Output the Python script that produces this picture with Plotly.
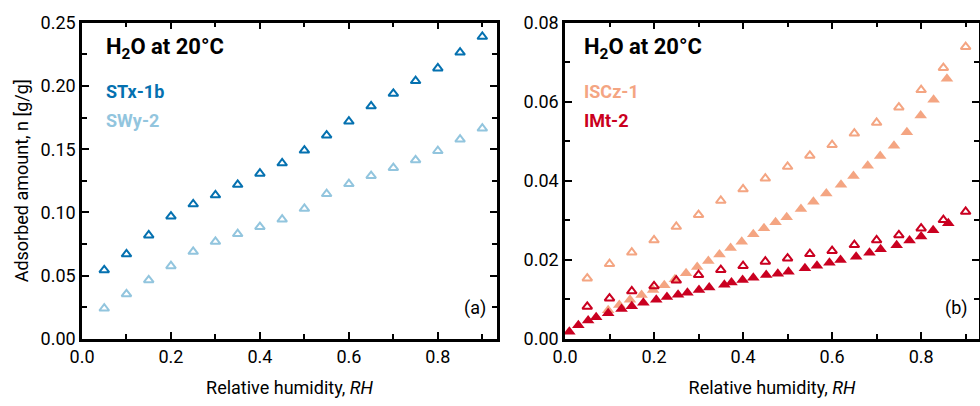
import plotly.graph_objects as go

# ---- Panel (a): H2O isotherms at 20 °C, open symbols ----
rh_a = [0.05, 0.10, 0.15, 0.20, 0.25, 0.30, 0.35, 0.40, 0.45,
        0.50, 0.55, 0.60, 0.65, 0.70, 0.75, 0.80, 0.85, 0.90]
stx_1b = [0.0545, 0.067, 0.082, 0.097, 0.1066, 0.1137, 0.122, 0.1308, 0.139,
          0.149, 0.161, 0.172, 0.184, 0.194, 0.204, 0.214, 0.2265, 0.239]
swy_2 = [0.0242, 0.0355, 0.0466, 0.0577, 0.069, 0.0769, 0.083, 0.0887, 0.0945,
         0.103, 0.1147, 0.1226, 0.129, 0.1353, 0.1414, 0.1487, 0.1577, 0.1664]

# ---- Panel (b): open symbols on a regular RH grid ----
rh_b_open = [0.05, 0.10, 0.15, 0.20, 0.25, 0.30, 0.35, 0.40, 0.45,
             0.50, 0.55, 0.60, 0.65, 0.70, 0.75, 0.80, 0.85, 0.90]
iscz_1_open = [0.01535, 0.019, 0.0219, 0.025, 0.0284, 0.0314, 0.035, 0.0379, 0.0406,
               0.0436, 0.0464, 0.0491, 0.052, 0.0547, 0.0586, 0.063, 0.0686, 0.0739]
imt_2_open = [0.0082, 0.0103, 0.0121, 0.0134, 0.0148, 0.0162, 0.0175, 0.0185, 0.0196,
              0.0204, 0.0215, 0.0223, 0.0238, 0.025, 0.0263, 0.028, 0.0301, 0.0322]

# ---- Panel (b): filled symbols (denser measurement) ----
rh_iscz_1_fill = [0.097, 0.122, 0.146, 0.172, 0.198, 0.223, 0.247, 0.272, 0.297,
                  0.322, 0.347, 0.372, 0.397, 0.423, 0.447, 0.473, 0.498, 0.530,
                  0.558, 0.587, 0.620, 0.648, 0.680, 0.708, 0.739, 0.768, 0.799,
                  0.828, 0.858]
iscz_1_fill = [0.0073, 0.0086, 0.0099, 0.0111, 0.0124, 0.0136, 0.0151, 0.0166, 0.0182,
               0.0197, 0.0214, 0.0230, 0.0246, 0.0265, 0.0280, 0.0295, 0.0308, 0.0329,
               0.0347, 0.0368, 0.0390, 0.0412, 0.0438, 0.0463, 0.0489, 0.0523, 0.0565,
               0.0605, 0.0658]
rh_imt_2_fill = [0.0097, 0.030, 0.052, 0.070, 0.097, 0.127, 0.150, 0.176, 0.205,
                 0.229, 0.254, 0.275, 0.301, 0.324, 0.358, 0.374, 0.399, 0.423,
                 0.452, 0.478, 0.502, 0.539, 0.566, 0.594, 0.619, 0.654, 0.684,
                 0.709, 0.745, 0.774, 0.800, 0.827, 0.861]
imt_2_fill = [0.00185, 0.0035, 0.0047, 0.0055, 0.0065, 0.0076, 0.0083, 0.0092, 0.0099,
              0.0106, 0.0112, 0.0117, 0.0124, 0.0130, 0.0137, 0.0143, 0.0149, 0.0155,
              0.0162, 0.0165, 0.0170, 0.0179, 0.0185, 0.0193, 0.0200, 0.0208, 0.0218,
              0.0227, 0.0237, 0.0249, 0.0259, 0.0275, 0.0293]

x_ticks = [0.0, 0.2, 0.4, 0.6, 0.8]
x_ticktext = ["0.0", "0.2", "0.4", "0.6", "0.8"]
y_ticks_a = [0.00, 0.05, 0.10, 0.15, 0.20, 0.25]
y_ticktext_a = ["0.00", "0.05", "0.10", "0.15", "0.20", "0.25"]
y_ticks_b = [0.00, 0.02, 0.04, 0.06, 0.08]
y_ticktext_b = ["0.00", "0.02", "0.04", "0.06", "0.08"]

C_STX = "#0571B0"
C_SWY = "#92C5DE"
C_ISC = "#F4A582"
C_IMT = "#CA0020"

FONT = "Roboto, 'Liberation Sans', sans-serif"

fig = go.Figure()

def open_tri(x, y, color, xa, ya):
    return go.Scatter(x=x, y=y, mode="markers", xaxis=xa, yaxis=ya, showlegend=False,
                      marker=dict(symbol="triangle-up-open", size=8.5, color=color,
                                  line=dict(width=2, color=color)))

def filled_tri(x, y, color, xa, ya):
    return go.Scatter(x=x, y=y, mode="markers", xaxis=xa, yaxis=ya, showlegend=False,
                      marker=dict(symbol="triangle-up", size=11, color=color,
                                  line=dict(width=0)))

fig.add_trace(open_tri(rh_a, stx_1b, C_STX, "x", "y"))
fig.add_trace(open_tri(rh_a, swy_2, C_SWY, "x", "y"))

fig.add_trace(filled_tri(rh_iscz_1_fill, iscz_1_fill, C_ISC, "x2", "y2"))
fig.add_trace(open_tri(rh_b_open, iscz_1_open, C_ISC, "x2", "y2"))
fig.add_trace(filled_tri(rh_imt_2_fill, imt_2_fill, C_IMT, "x2", "y2"))
fig.add_trace(open_tri(rh_b_open, imt_2_open, C_IMT, "x2", "y2"))

axis_common = dict(
    showline=True, linewidth=2.5, linecolor="black", mirror="allticks",
    ticks="inside", ticklen=7, tickwidth=2, tickcolor="black",
    showgrid=False, zeroline=False, automargin=False,
    tickfont=dict(family=FONT, size=18, color="black"),
)
minor_common = dict(ticks="inside", ticklen=5, tickwidth=2, tickcolor="black", showgrid=False)

fig.update_layout(
    width=980, height=406,
    margin=dict(l=0, r=0, t=0, b=0),
    paper_bgcolor="white", plot_bgcolor="white",
    font=dict(family=FONT, color="black"),
    xaxis=dict(domain=[82 / 980, 497 / 980], range=[0, 0.933],
               tickvals=x_ticks, ticktext=x_ticktext,
               minor=dict(dtick=0.1, tick0=0, **minor_common),
               title=dict(text="Relative humidity, <i>RH</i>", font=dict(size=18), standoff=16),
               anchor="y", **axis_common),
    yaxis=dict(domain=[1 - 339 / 406, 1 - 22.7 / 406], range=[0, 0.25],
               tickvals=y_ticks_a, ticktext=y_ticktext_a,
               minor=dict(dtick=0.025, tick0=0, **minor_common),
               title=dict(text="Adsorbed amount, n [g/g]", font=dict(size=18), standoff=8),
               anchor="x", **axis_common),
    xaxis2=dict(domain=[565 / 980, 979 / 980], range=[0, 0.93],
                tickvals=x_ticks, ticktext=x_ticktext,
                minor=dict(dtick=0.1, tick0=0, **minor_common),
                title=dict(text="Relative humidity, <i>RH</i>", font=dict(size=18), standoff=16),
                anchor="y2", **axis_common),
    yaxis2=dict(domain=[1 - 339 / 406, 1 - 22.7 / 406], range=[0, 0.08],
                tickvals=y_ticks_b, ticktext=y_ticktext_b,
                minor=dict(dtick=0.01, tick0=0, **minor_common),
                anchor="x2", **axis_common),
)

def note(text, x, y, xref, yref, color="black", size=18, bold=True, xanchor="left"):
    fig.add_annotation(text=f"<b>{text}</b>" if bold else text, x=x, y=y,
                       xref=xref, yref=yref, xanchor=xanchor, yanchor="middle",
                       showarrow=False, font=dict(family=FONT, size=size, color=color))

# Panel (a) labels
note("H<sub>2</sub>O at 20°C", 0.052, 0.918, "x domain", "y domain", size=22)
note("STx-1b", 0.052, 0.781, "x domain", "y domain", color=C_STX)
note("SWy-2", 0.052, 0.692, "x domain", "y domain", color=C_SWY)
note("(a)", 0.978, 0.098, "x domain", "y domain", bold=False, xanchor="right")

# Panel (b) labels
note("H<sub>2</sub>O at 20°C", 0.040, 0.918, "x2 domain", "y2 domain", size=22)
note("ISCz-1", 0.040, 0.781, "x2 domain", "y2 domain", color=C_ISC)
note("IMt-2", 0.040, 0.692, "x2 domain", "y2 domain", color=C_IMT)
note("(b)", 0.978, 0.098, "x2 domain", "y2 domain", bold=False, xanchor="right")

fig.write_html("out.html")
